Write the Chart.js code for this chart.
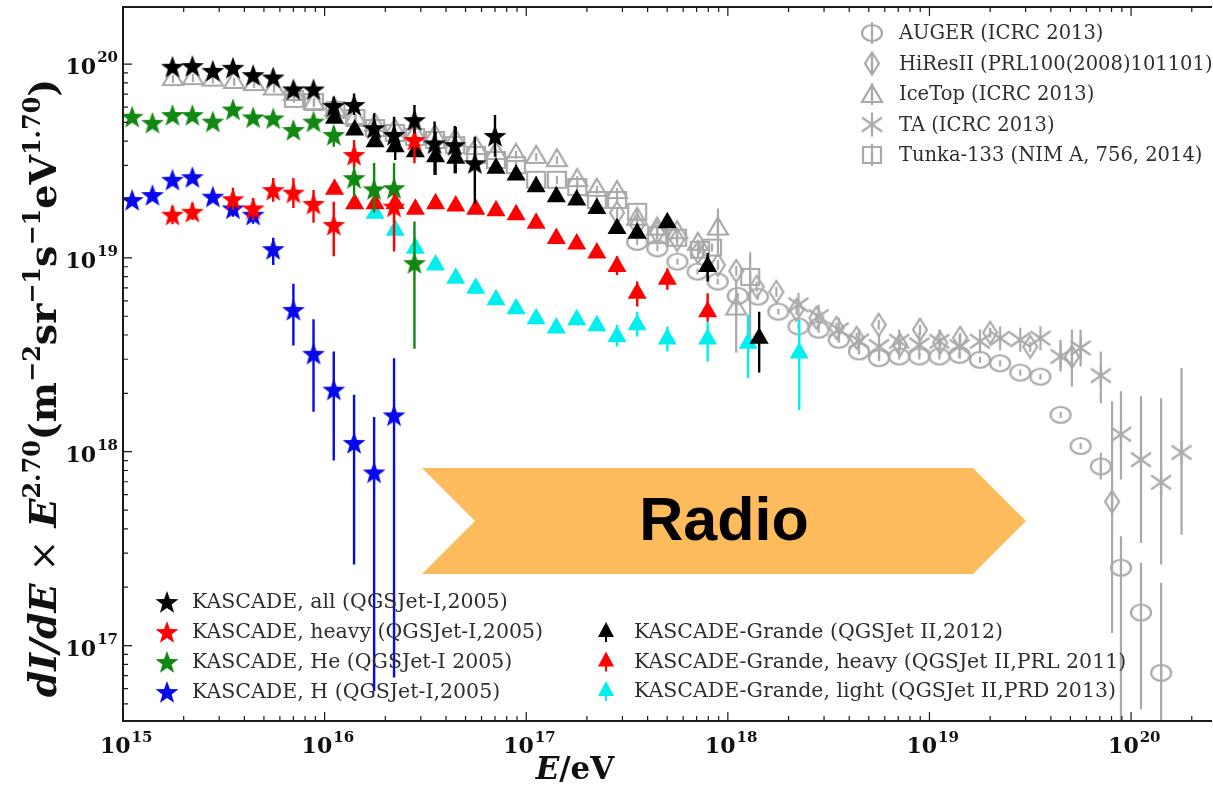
<!DOCTYPE html>
<html lang="en">
<head>
<meta charset="UTF-8">
<title>Cosmic ray all-particle spectrum</title>
<script src="https://cdn.jsdelivr.net/npm/chart.js"></script>
<style>
    body { margin: 0; background: #ffffff; }
    #box { width: 1213px; height: 785px; }
</style>
</head>
<body>
<div id="box"><canvas id="spectrum" width="1213" height="785"></canvas></div>
<script>
// ---- values: E in eV, flux scaled by E^2.70 ----
const kascadeE = [1.11e15, 1.40e15, 1.76e15, 2.21e15, 2.79e15, 3.51e15, 4.42e15, 5.56e15, 7.00e15, 8.81e15,
                  1.11e16, 1.40e16, 1.76e16, 2.21e16, 2.79e16, 3.51e16, 4.42e16, 5.56e16, 7.00e16];
const kasAll   = [null, null, 9.68e19, 9.77e19, 9.23e19, 9.57e19, 8.77e19, 8.53e19, 7.40e19, 7.40e19,
                  6.08e19, 6.15e19, 4.67e19, 4.31e19, 5.14e19, 3.90e19, 3.82e19, 3.08e19, 4.26e19];
const kasAllLo = [null, null, null, null, null, null, null, null, null, null,
                  5.57e19, 5.46e19, 3.90e19, 3.53e19, 4.40e19, 2.68e19, 2.73e19, 1.91e19, 3.33e19];
const kasAllHi = [null, null, null, null, null, null, null, null, null, null,
                  6.78e19, 7.06e19, 5.57e19, 5.35e19, 6.15e19, 5.05e19, 4.79e19, 4.22e19, 5.46e19];
const kasHeavy   = [null, null, 1.67e19, 1.73e19, null, 2.01e19, 1.80e19, 2.24e19, 2.17e19, 1.90e19,
                    1.48e19, 3.40e19, null, 1.84e19, 4.06e19, null, null, null, null];
const kasHeavyLo = [null, null, 1.49e19, 1.57e19, null, 1.77e19, 1.57e19, 1.95e19, 1.81e19, 1.52e19,
                    1.02e19, 2.96e19, null, 1.08e19, 3.08e19, null, null, null, null];
const kasHeavyHi = [null, null, 1.85e19, 1.92e19, null, 2.30e19, 2.04e19, 2.58e19, 2.58e19, 2.24e19,
                    1.95e19, 4.06e19, null, 2.16e19, 4.85e19, null, null, null, null];
const kasHe   = [5.35e19, 4.98e19, 5.46e19, 5.46e19, 5.05e19, 5.83e19, 5.31e19, 5.25e19, 4.57e19, 5.05e19,
                 4.31e19, 2.58e19, 2.26e19, 2.29e19, 9.40e18, null, null, null, null];
const kasHeLo = [null, null, null, null, null, null, null, null, null, null,
                 3.75e19, 2.07e19, 1.71e19, 1.51e19, 3.40e18, null, null, null, null];
const kasHeHi = [null, null, null, null, null, null, null, null, null, null,
                 4.75e19, 3.53e19, 3.09e19, 3.09e19, 1.54e19, null, null, null, null];
const kasH   = [1.99e19, 2.11e19, 2.53e19, 2.61e19, 2.07e19, 1.80e19, 1.67e19, 1.11e19, 5.39e18, 3.20e18,
                2.09e18, 1.11e18, 7.82e17, 1.54e18, null, null, null, null, null];
const kasHLo = [null, null, null, null, null, 1.63e19, 1.50e19, 9.20e18, 3.53e18, 1.61e18,
                9.02e17, 2.62e17, 5.82e16, 6.84e16, null, null, null, null, null];
const kasHHi = [null, null, null, null, null, 1.99e19, 1.79e19, 1.27e19, 7.35e18, 4.83e18,
                3.29e18, 1.97e18, 1.51e18, 3.04e18, null, null, null, null, null];

const grandeE = [1.12e16, 1.41e16, 1.78e16, 2.24e16, 2.82e16, 3.55e16, 4.47e16, 5.62e16, 7.08e16, 8.91e16,
                 1.12e17, 1.41e17, 1.78e17, 2.24e17, 2.82e17, 3.55e17, 5.01e17, 7.94e17, 1.26e18, 1.43e18, 2.26e18];
const grandeAll   = [5.25e19, 4.57e19, 3.97e19, 3.75e19, 3.53e19, 3.33e19, 3.27e19, null, 2.90e19, 2.68e19,
                     2.33e19, 2.07e19, 1.99e19, 1.80e19, 1.42e19, 1.34e19, 1.52e19, 9.02e18, null, 3.85e18, null];
const grandeAllLo = [null, null, null, 3.20e19, null, 2.68e19, 2.73e19, null, null, null,
                     null, null, null, null, null, null, null, 7.55e18, null, 2.56e18, null];
const grandeAllHi = [null, null, null, 4.31e19, null, 4.48e19, 4.75e19, null, null, null,
                     null, null, null, null, null, null, null, 1.06e19, null, 5.28e18, null];
const grandeHeavy   = [2.26e19, 1.90e19, 1.90e19, 1.91e19, 1.78e19, 1.90e19, 1.85e19, 1.78e19, 1.75e19, 1.67e19,
                       1.51e19, 1.26e19, 1.18e19, 1.06e19, 9.02e18, 6.58e18, 7.77e18, 5.28e18, null, null, null];
const grandeHeavyLo = [null, null, null, null, null, null, null, null, null, null,
                       null, null, null, null, 8.17e18, 5.61e18, 6.84e18, 4.70e18, null, null, null];
const grandeHeavyHi = [null, null, null, null, null, null, null, null, null, null,
                       null, null, null, null, 1.02e19, 7.55e18, 8.85e18, 6.58e18, null, null, null];
const grandeLight   = [null, null, 1.70e19, 1.39e19, 1.12e19, 9.20e18, 7.85e18, 6.98e18, 6.08e18, 5.46e18,
                       4.85e18, 4.35e18, 4.79e18, 4.46e18, 3.93e18, 4.52e18, 3.81e18, 3.81e18, 3.63e18, null, 3.23e18];
const grandeLightLo = [null, null, null, null, null, null, null, null, null, null,
                       null, null, null, null, 3.49e18, 3.93e18, 3.29e18, 2.92e18, 2.40e18, null, 1.64e18];
const grandeLightHi = [null, null, null, null, null, null, null, null, null, null,
                       null, null, null, null, 4.52e18, 5.28e18, 4.43e18, 4.70e18, 5.08e18, null, 4.79e18];

const augerE  = [3.55e17, 4.47e17, 5.62e17, 7.08e17, 8.91e17, 1.12e18, 1.41e18, 1.78e18, 2.24e18, 2.82e18,
                 3.55e18, 4.47e18, 5.62e18, 7.08e18, 8.91e18, 1.12e19, 1.41e19, 1.78e19, 2.24e19, 2.82e19,
                 3.55e19, 4.47e19, 5.62e19, 7.08e19, 8.91e19, 1.12e20, 1.41e20];
const auger   = [1.21e19, 1.12e19, 9.57e18, 8.50e18, 7.55e18, 6.37e18, 6.31e18, 5.28e18, 4.43e18, 4.26e18,
                 3.78e18, 3.29e18, 3.04e18, 3.10e18, 3.10e18, 3.10e18, 3.16e18, 2.98e18, 2.86e18, 2.56e18,
                 2.44e18, 1.55e18, 1.07e18, 8.40e17, 2.52e17, 1.48e17, 7.23e16];
const augerLo = [null, null, null, null, null, null, null, null, null, null, null, null, null, null, null,
                 null, null, null, null, null, null, null, null, 7.18e17, 4.01e16, 4.68e16, 4.05e16];
const augerHi = [null, null, null, null, null, null, null, null, null, null, null, null, null, null, null,
                 null, null, null, null, null, null, null, null, 9.89e17, 3.66e17, 2.67e17, 2.11e17];

const hiresE  = [2.82e17, 3.55e17, 4.46e17, 5.60e17, 7.11e17, 8.93e17, 1.10e18, 1.39e18, 1.74e18, 2.19e18,
                 2.75e18, 3.46e18, 4.35e18, 5.60e18, 7.14e18, 8.97e18, 1.13e19, 1.42e19, 2.00e19, 3.16e19,
                 5.09e19, 8.05e19];
const hires   = [1.71e19, 1.48e19, 1.35e19, 1.24e19, 1.07e19, 9.20e18, 8.57e18, 7.10e18, 6.68e18, 5.40e18,
                 4.91e18, 4.36e18, 3.87e18, 4.52e18, 3.56e18, 4.26e18, 3.65e18, 3.87e18, 4.11e18, 3.48e18,
                 3.09e18, 5.52e17];
const hiresLo = [null, null, null, null, null, null, null, null, null, null,
                 null, null, null, null, null, null, null, null, null, null, 2.17e18, 1.16e17];
const hiresHi = [null, null, null, null, null, null, null, null, null, null,
                 null, null, null, null, null, null, null, null, null, null, 4.26e18, 1.82e18];

const iceE  = [1.77e15, 2.22e15, 2.79e15, 3.56e15, 4.47e15, 5.61e15, 7.05e15, 8.85e15, 1.13e16, 1.42e16,
               1.78e16, 2.23e16, 2.81e16, 3.53e16, 4.44e16, 5.64e16, 7.08e16, 8.89e16, 1.12e17, 1.42e17,
               1.79e17, 2.24e17, 2.82e17, 3.55e17, 4.46e17, 5.60e17, 7.11e17, 8.93e17, 1.10e18];
const ice   = [8.57e19, 8.67e19, 8.51e19, 8.28e19, 8.07e19, 7.66e19, 7.18e19, 6.44e19, 5.93e19, 5.40e19,
               4.97e19, 4.68e19, 4.46e19, 4.36e19, 4.16e19, 3.78e19, 3.56e19, 3.48e19, 3.40e19, 3.27e19,
               2.58e19, 2.30e19, 2.24e19, 1.63e19, 1.45e19, 1.39e19, 1.21e19, 1.45e19, 5.61e18];
const iceLo = [null, null, null, null, null, null, null, null, null, null, null, null, null, null, null,
               null, null, null, null, null, null, null, null, null, null, null, null, 1.06e19, 3.24e18];
const iceHi = [null, null, null, null, null, null, null, null, null, null, null, null, null, null, null,
               null, null, null, null, null, null, null, null, null, null, null, null, 1.80e19, 7.55e18];

const taE  = [2.24e18, 2.82e18, 3.55e18, 4.47e18, 5.62e18, 7.08e18, 8.91e18, 1.12e19, 1.41e19, 1.78e19,
              2.24e19, 2.82e19, 3.55e19, 4.47e19, 5.62e19, 7.08e19, 8.91e19, 1.12e20, 1.41e20, 1.78e20];
const ta   = [5.73e18, 4.98e18, 4.26e18, 3.73e18, 3.49e18, 3.71e18, 3.56e18, 3.71e18, 3.49e18, 3.71e18,
              3.85e18, 3.78e18, 3.85e18, 3.10e18, 3.43e18, 2.47e18, 1.23e18, 9.10e17, 6.95e17, 9.91e17];
const taLo = [null, null, null, null, null, null, null, null, null, null,
              null, null, null, 2.59e18, 2.75e18, 1.78e18, 7.18e17, 3.38e17, 2.62e17, 3.73e17];
const taHi = [null, null, null, null, null, null, null, null, null, null,
              null, null, null, 3.78e18, 4.26e18, 3.29e18, 2.05e18, 1.93e18, 1.89e18, 2.70e18];

const tunkaE  = [7.05e15, 8.85e15, 1.13e16, 1.42e16, 1.78e16, 2.23e16, 2.81e16, 3.53e16, 4.44e16, 5.64e16,
                 7.08e16, 8.89e16, 1.12e17, 1.42e17, 1.79e17, 2.24e17, 2.82e17, 3.55e17, 4.46e17, 5.60e17,
                 7.28e17, 8.34e17, 1.29e18];
const tunka   = [6.61e19, 6.37e19, 5.79e19, 5.27e19, 4.68e19, 4.41e19, 4.21e19, 4.06e19, 3.82e19, 3.40e19,
                 3.20e19, 3.01e19, 2.53e19, 2.53e19, 2.32e19, 1.99e19, 1.99e19, 1.73e19, 1.31e19, 1.27e19,
                 1.10e19, 1.13e19, 7.98e18];
const tunkaLo = [null, null, null, null, null, null, null, null, null, null, null, null,
                 null, null, null, null, null, null, null, null, null, null, 3.78e18];
const tunkaHi = [null, null, null, null, null, null, null, null, null, null, null, null,
                 null, null, null, null, null, null, null, null, null, null, 1.07e19];

const decades = [15, 16, 17, 18, 19, 20];
const yDecades = [17, 18, 19, 20];

// ---- colours and markers ----
const GREY = '#a9a9a9';
const BLACK = '#000000', RED = '#ff0000', GREEN = '#118811', BLUE = '#0808ee', CYAN = '#00f0f0';

function makeStar(color) {
    const c = document.createElement('canvas');
    c.width = 26; c.height = 26;
    const g = c.getContext('2d');
    g.fillStyle = color;
    g.beginPath();
    for (let k = 0; k < 10; k++) {
        const r = k % 2 ? 4.9 : 12;
        const a = -Math.PI / 2 + k * Math.PI / 5;
        g.lineTo(13 + r * Math.cos(a), 14 + r * Math.sin(a));
    }
    g.closePath();
    g.fill();
    return c;
}

function makeGrey(shape) {
    const c = document.createElement('canvas');
    c.width = 26; c.height = 26;
    const g = c.getContext('2d');
    const m = 13;
    g.strokeStyle = GREY;
    g.lineWidth = 2.2;
    g.beginPath();
    if (shape === 'circle') {
        g.ellipse(m, m, 10, 8, 0, 0, Math.PI * 2);
        g.moveTo(m, m - 3); g.lineTo(m, m + 3);
    } else if (shape === 'diamond') {
        g.moveTo(m, m - 11); g.lineTo(m + 7, m); g.lineTo(m, m + 11); g.lineTo(m - 7, m); g.closePath();
        g.moveTo(m, m - 5); g.lineTo(m, m + 5);
    } else if (shape === 'triangle') {
        g.moveTo(m, m - 9); g.lineTo(m + 10, m + 8); g.lineTo(m - 10, m + 8); g.closePath();
        g.moveTo(m, m - 2); g.lineTo(m, m + 6);
    } else if (shape === 'asterisk') {
        g.moveTo(m - 10, m - 7); g.lineTo(m + 10, m + 7);
        g.moveTo(m - 10, m + 7); g.lineTo(m + 10, m - 7);
        g.moveTo(m, m - 12); g.lineTo(m, m + 12);
    } else {
        g.rect(m - 9, m - 8, 18, 16);
        g.moveTo(m, m - 4); g.lineTo(m, m + 4);
    }
    g.stroke();
    return c;
}

const marks = {
    starBlack: makeStar(BLACK), starRed: makeStar(RED), starGreen: makeStar(GREEN), starBlue: makeStar(BLUE),
    auger: makeGrey('circle'), hires: makeGrey('diamond'), ice: makeGrey('triangle'),
    ta: makeGrey('asterisk'), tunka: makeGrey('square')
};

function pts(xs, ys) {
    return xs.map((x, i) => ({ x: x, y: ys[i] })).filter(p => p.y != null);
}

function bars(xs, lo, hi) {
    const out = [];
    xs.forEach((x, i) => {
        if (lo[i] != null) out.push({ x: x, y: lo[i] }, { x: x, y: hi[i] }, { x: x, y: null });
    });
    return out;
}

function markerSet(label, data, style, color, radius) {
    return { label: label, data: data, pointStyle: style, pointRadius: radius || 10,
             backgroundColor: color, borderColor: color, borderWidth: 0, showLine: false };
}

function barSet(data, color, width) {
    return { label: '', data: data, showLine: true, pointRadius: 0, borderColor: color,
             borderWidth: width || 2.4, spanGaps: false };
}

// first dataset ends up on top
const datasets = [
    barSet(bars(kascadeE, kasAllLo, kasAllHi), BLACK),
    markerSet('KASCADE, all (QGSJet-I,2005)', pts(kascadeE, kasAll), marks.starBlack),
    barSet(bars(kascadeE, kasHeavyLo, kasHeavyHi), RED),
    markerSet('KASCADE, heavy (QGSJet-I,2005)', pts(kascadeE, kasHeavy), marks.starRed),
    barSet(bars(kascadeE, kasHeLo, kasHeHi), GREEN),
    markerSet('KASCADE, He (QGSJet-I 2005)', pts(kascadeE, kasHe), marks.starGreen),
    barSet(bars(kascadeE, kasHLo, kasHHi), BLUE),
    markerSet('KASCADE, H (QGSJet-I,2005)', pts(kascadeE, kasH), marks.starBlue),
    barSet(bars(grandeE, grandeAllLo, grandeAllHi), BLACK),
    markerSet('KASCADE-Grande (QGSJet II,2012)', pts(grandeE, grandeAll), 'triangle', BLACK, 11),
    barSet(bars(grandeE, grandeHeavyLo, grandeHeavyHi), RED),
    markerSet('KASCADE-Grande, heavy (QGSJet II,PRL 2011)', pts(grandeE, grandeHeavy), 'triangle', RED, 11),
    barSet(bars(grandeE, grandeLightLo, grandeLightHi), CYAN),
    markerSet('KASCADE-Grande, light (QGSJet II,PRD 2013)', pts(grandeE, grandeLight), 'triangle', CYAN, 11),
    barSet(bars(augerE, augerLo, augerHi), GREY, 2.2),
    markerSet('AUGER (ICRC 2013)', pts(augerE, auger), marks.auger),
    barSet(bars(hiresE, hiresLo, hiresHi), GREY, 2.2),
    markerSet('HiResII (PRL100(2008)101101)', pts(hiresE, hires), marks.hires),
    barSet(bars(iceE, iceLo, iceHi), GREY, 2.2),
    markerSet('IceTop (ICRC 2013)', pts(iceE, ice), marks.ice),
    barSet(bars(taE, taLo, taHi), GREY, 2.2),
    markerSet('TA (ICRC 2013)', pts(taE, ta), marks.ta),
    barSet(bars(tunkaE, tunkaLo, tunkaHi), GREY, 2.2),
    markerSet('Tunka-133 (NIM A, 756, 2014)', pts(tunkaE, tunka), marks.tunka)
];

const SERIF = '"DejaVu Serif", serif';

function drawRich(ctx, parts, x, y) {
    let w = 0;
    parts.forEach(p => { ctx.font = p[1]; w += ctx.measureText(p[0]).width; });
    let cx = x - w / 2;
    parts.forEach(p => {
        ctx.font = p[1];
        ctx.fillText(p[0], cx, y + (p[2] || 0));
        cx += ctx.measureText(p[0]).width;
    });
}

// frame, inward ticks, tick labels, titles
const framePlugin = {
    id: 'frame',
    afterDraw(chart) {
        const { ctx, chartArea: a, scales: { x, y } } = chart;
        ctx.save();
        ctx.strokeStyle = '#1a1a1a';
        ctx.lineWidth = 2;
        ctx.beginPath();
        ctx.moveTo(a.right, a.top); ctx.lineTo(a.left, a.top);
        ctx.lineTo(a.left, a.bottom); ctx.lineTo(a.right, a.bottom);
        ctx.stroke();

        ctx.lineWidth = 1.2;
        ctx.beginPath();
        for (let d = 15; d <= 20; d++) {
            for (let m = 1; m <= 9; m++) {
                const v = m * Math.pow(10, d);
                if (v > x.max) continue;
                const px = x.getPixelForValue(v);
                const len = m === 1 ? 9 : 5;
                ctx.moveTo(px, a.bottom); ctx.lineTo(px, a.bottom - len);
                ctx.moveTo(px, a.top); ctx.lineTo(px, a.top + len);
            }
        }
        for (let d = 16; d <= 20; d++) {
            for (let m = 1; m <= 9; m++) {
                const v = m * Math.pow(10, d);
                if (v < y.min || v > y.max) continue;
                const py = y.getPixelForValue(v);
                const len = m === 1 ? 9 : 5;
                ctx.moveTo(a.left, py); ctx.lineTo(a.left + len, py);
            }
        }
        ctx.stroke();

        ctx.fillStyle = '#111';
        ctx.textBaseline = 'alphabetic';
        ctx.textAlign = 'left';
        const big = 'bold 22px ' + SERIF, small = 'bold 15px ' + SERIF;
        decades.forEach(d => {
            const px = x.getPixelForValue(Math.pow(10, d));
            ctx.font = big;
            ctx.fillText('10', px - 23, 753);
            const w = ctx.measureText('10').width;
            ctx.font = small;
            ctx.fillText(String(d), px - 23 + w + 1, 742);
        });
        yDecades.forEach(d => {
            const py = y.getPixelForValue(Math.pow(10, d));
            ctx.font = small;
            const we = ctx.measureText(String(d)).width;
            ctx.fillText(String(d), 118 - we, py - 2);
            ctx.font = big;
            const w = ctx.measureText('10').width;
            ctx.fillText('10', 117 - we - w, py + 10);
        });

        // axis titles
        ctx.save();
        ctx.translate(56, 388);
        ctx.rotate(-Math.PI / 2);
        const B = 'bold 38px ' + SERIF, BI = 'italic bold 38px ' + SERIF, S = 'bold 24px ' + SERIF;
        drawRich(ctx, [
            ['dI/dE', BI], [' \u00d7 ', '38px ' + SERIF], ['E', BI], ['2.70', S, -16],
            ['(m', B], ['\u22122', S, -16], ['sr', B], ['\u22121', S, -16], ['s', B], ['\u22121', S, -16],
            ['eV', B], ['1.70', S, -16], [')', B]
        ], 0, 0);
        ctx.restore();
        drawRich(ctx, [['E', 'italic bold 31px ' + SERIF], ['/eV', 'bold 31px ' + SERIF]], 575, 779);
        ctx.restore();
    }
};

// in-plot legends and the "Radio" arrow
const legendBlocks = [
    { mx: 167, tx: 192, y0: 602, dy: 30, size: 20.5, sets: [1, 3, 5, 7] },
    { mx: 606, tx: 634, y0: 632, dy: 29.5, size: 20.5, sets: [9, 11, 13] },
    { mx: 872, tx: 899, y0: 33, dy: 30.5, size: 19.5, sets: [15, 17, 19, 21, 23] }
];

const overlayPlugin = {
    id: 'overlay',
    afterDraw(chart) {
        const ctx = chart.ctx;
        ctx.save();
        // arrow
        ctx.fillStyle = '#fdbb5c';
        ctx.beginPath();
        ctx.moveTo(422, 468); ctx.lineTo(973, 468); ctx.lineTo(1026, 521);
        ctx.lineTo(973, 574); ctx.lineTo(422, 574); ctx.lineTo(475, 521);
        ctx.closePath();
        ctx.fill();
        ctx.fillStyle = '#000';
        ctx.font = 'bold 61px "Liberation Sans", Arial, sans-serif';
        ctx.textAlign = 'center';
        ctx.textBaseline = 'middle';
        ctx.fillText('Radio', 724, 523);

        ctx.textAlign = 'left';
        ctx.textBaseline = 'middle';
        legendBlocks.forEach(b => {
            ctx.font = b.size + 'px ' + SERIF;
            b.sets.forEach((k, i) => {
                const ds = chart.data.datasets[k];
                const yy = b.y0 + i * b.dy;
                const st = ds.pointStyle;
                if (st === 'triangle') {
                    ctx.fillStyle = ds.backgroundColor;
                    ctx.beginPath();
                    ctx.moveTo(b.mx, yy - 10); ctx.lineTo(b.mx + 8, yy + 5); ctx.lineTo(b.mx - 8, yy + 5);
                    ctx.closePath(); ctx.fill();
                    ctx.strokeStyle = ds.backgroundColor; ctx.lineWidth = 2;
                    ctx.beginPath(); ctx.moveTo(b.mx, yy); ctx.lineTo(b.mx, yy + 10); ctx.stroke();
                } else {
                    ctx.drawImage(st, b.mx - 13, yy - 13);
                    if (k >= 15 && k !== 21) {
                        ctx.strokeStyle = GREY; ctx.lineWidth = 2.2;
                        ctx.beginPath(); ctx.moveTo(b.mx, yy - 11); ctx.lineTo(b.mx, yy + 11); ctx.stroke();
                    }
                }
                ctx.fillStyle = '#2e2e2e';
                ctx.fillText(ds.label, b.tx, yy + 1);
            });
        });
        ctx.restore();
    }
};

new Chart(document.getElementById('spectrum'), {
    type: 'scatter',
    data: { datasets: datasets },
    options: {
        responsive: false,
        animation: false,
        layout: { autoPadding: false, padding: { top: 7, right: 1, left: 0, bottom: 0 } },
        plugins: { legend: { display: false }, tooltip: { enabled: false } },
        scales: {
            x: {
                type: 'logarithmic', min: 1e15, max: 2.52e20, bounds: 'data',
                grid: { display: false }, border: { display: false }, ticks: { display: false },
                afterFit: s => { s.height = 64; }
            },
            y: {
                type: 'logarithmic', min: 4.08e16, max: 1.97e20, bounds: 'data',
                grid: { display: false }, border: { display: false }, ticks: { display: false },
                afterFit: s => { s.width = 123; }
            }
        }
    },
    plugins: [framePlugin, overlayPlugin]
});
</script>
</body>
</html>
